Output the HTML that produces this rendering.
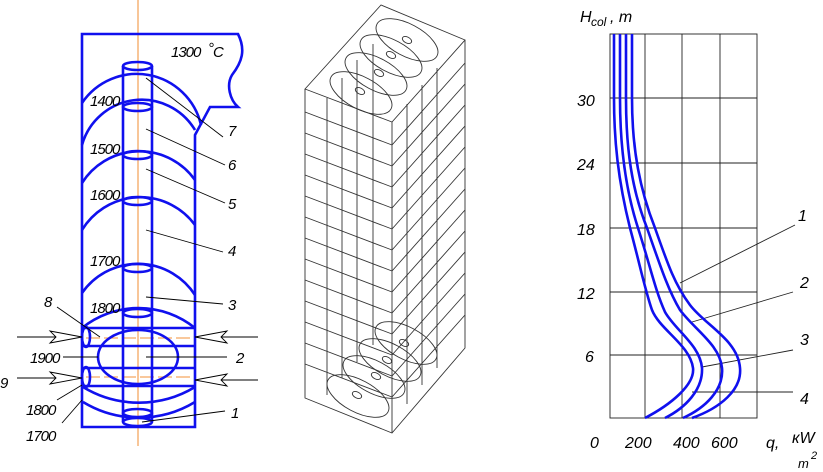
<!DOCTYPE html>
<html><head><meta charset="utf-8"><style>
html,body{margin:0;padding:0;background:#fff;}
svg{display:block;}
text{font-family:"Liberation Sans",Arial,sans-serif;font-style:italic;fill:#000;}
</style></head><body>
<svg width="823" height="472" viewBox="0 0 823 472" xmlns="http://www.w3.org/2000/svg">
<!-- LEFT DIAGRAM -->
<g fill="none">
<line x1="138" y1="0" x2="138" y2="446" stroke="#f5a860" stroke-width="1.3"/>
<line x1="86" y1="338" x2="195" y2="338" stroke="#f5a860" stroke-width="1.2" stroke-dasharray="14,4"/>
<line x1="86" y1="377" x2="195" y2="377" stroke="#f5a860" stroke-width="1.2" stroke-dasharray="14,4"/>
<g stroke="#1010ee" stroke-width="2.6">
<path d="M82,427 L82,34 L238,34 C246,50 242,62 232,75 C226,85 230,100 238,107 L210,107 L195,135 L195,427 Z"/>
<line x1="123" y1="66" x2="123" y2="422"/>
<line x1="152" y1="66" x2="152" y2="422"/>
<path d="M82,103 A66,66 0 0 1 201,125"/>
<path d="M82,145 A62,62 0 0 1 195,130"/>
<path d="M82,183 A68,68 0 0 1 195,180"/>
<path d="M82,230 A68,68 0 0 1 195,225"/>
<path d="M82,293 A68,68 0 0 1 195,295"/>
<path d="M82,328 A90,90 0 0 1 195,328"/>
<line x1="82" y1="328" x2="195" y2="328"/>
<line x1="82" y1="346" x2="195" y2="346"/>
<line x1="82" y1="368" x2="195" y2="368"/>
<line x1="82" y1="386" x2="195" y2="386"/>
<path d="M83,387 A108,108 0 0 0 195,387"/>
<path d="M83,402 A108,108 0 0 0 195,402"/>
<ellipse cx="138" cy="357" rx="40" ry="27"/>
<ellipse cx="86" cy="337" rx="4" ry="10"/>
<ellipse cx="86" cy="377" rx="4" ry="10"/>
<ellipse cx="137.5" cy="66" rx="14.5" ry="4"/>
<ellipse cx="137.5" cy="107" rx="14.5" ry="4"/>
<ellipse cx="137.5" cy="155" rx="14.5" ry="4"/>
<ellipse cx="137.5" cy="201" rx="14.5" ry="4"/>
<ellipse cx="137.5" cy="268" rx="14.5" ry="4"/>
<ellipse cx="137.5" cy="313" rx="14.5" ry="4"/>
<ellipse cx="137.5" cy="413" rx="14.5" ry="4"/>
<ellipse cx="137.5" cy="422" rx="14.5" ry="4"/>
</g>
<g stroke="#000" stroke-width="0.9">
<line x1="17" y1="337" x2="82" y2="337"/>
<line x1="17" y1="378" x2="82" y2="378"/>
<line x1="195" y1="337" x2="258" y2="337"/>
<line x1="195" y1="380" x2="258" y2="380"/>
<path d="M82,337 L50,331 L56,337 L50,343 Z" fill="#fff"/>
<path d="M82,378 L50,372 L56,378 L50,384 Z" fill="#fff"/>
<path d="M195,337 L227,331 L221,337 L227,343 Z" fill="#fff"/>
<path d="M195,380 L227,374 L221,380 L227,386 Z" fill="#fff"/>
<line x1="146" y1="78" x2="223" y2="137"/>
<line x1="146" y1="129" x2="225" y2="165"/>
<line x1="146" y1="169" x2="225" y2="203"/>
<line x1="146" y1="230" x2="223" y2="252"/>
<line x1="146" y1="297" x2="223" y2="304"/>
<line x1="146" y1="357" x2="227" y2="357"/>
<line x1="142" y1="422" x2="225" y2="411"/>
<line x1="63" y1="357" x2="98" y2="357"/>
<line x1="57" y1="307" x2="100" y2="337"/>
<line x1="57" y1="400" x2="82" y2="385"/>
<line x1="62" y1="423" x2="82" y2="400"/>
</g>
</g>
<g font-size="15">
<text x="171" y="57" letter-spacing="-1">1300</text>
<text x="208" y="53">°</text><text x="213" y="57">C</text>
<text x="90" y="106" letter-spacing="-1">1400</text>
<text x="90" y="154" letter-spacing="-1">1500</text>
<text x="90" y="200" letter-spacing="-1">1600</text>
<text x="90" y="266" letter-spacing="-1">1700</text>
<text x="90" y="313" letter-spacing="-1">1800</text>
<text x="30" y="363" letter-spacing="-1">1900</text>
<text x="26" y="415" letter-spacing="-1">1800</text>
<text x="26" y="441" letter-spacing="-1">1700</text>
<text x="44" y="307">8</text>
<text x="0" y="388">9</text>
<text x="228" y="136">7</text>
<text x="228" y="170">6</text>
<text x="228" y="209">5</text>
<text x="228" y="256">4</text>
<text x="228" y="310">3</text>
<text x="236" y="363">2</text>
<text x="231" y="418">1</text>
</g>
<!-- MIDDLE 3D -->
<g fill="none" stroke="#333" stroke-width="0.9">
<path d="M305,89 L381,5 L465,40 L392,122 Z"/>
<path d="M305,89 L305,398 L392,433 L465,348 L465,40"/>
<line x1="392" y1="122" x2="392" y2="433"/>
<line x1="305" y1="112" x2="392" y2="145"/><line x1="392" y1="145" x2="465" y2="63"/>
<line x1="305" y1="133" x2="392" y2="166"/><line x1="392" y1="166" x2="465" y2="84"/>
<line x1="305" y1="154" x2="392" y2="187"/><line x1="392" y1="187" x2="465" y2="105"/>
<line x1="305" y1="175" x2="392" y2="208"/><line x1="392" y1="208" x2="465" y2="126"/>
<line x1="305" y1="196" x2="392" y2="229"/><line x1="392" y1="229" x2="465" y2="147"/>
<line x1="305" y1="217" x2="392" y2="250"/><line x1="392" y1="250" x2="465" y2="168"/>
<line x1="305" y1="238" x2="392" y2="271"/><line x1="392" y1="271" x2="465" y2="189"/>
<line x1="305" y1="259" x2="392" y2="292"/><line x1="392" y1="292" x2="465" y2="210"/>
<line x1="305" y1="280" x2="392" y2="313"/><line x1="392" y1="313" x2="465" y2="231"/>
<line x1="305" y1="301" x2="392" y2="334"/><line x1="392" y1="334" x2="465" y2="252"/>
<line x1="305" y1="322" x2="392" y2="355"/><line x1="392" y1="355" x2="465" y2="273"/>
<line x1="305" y1="343" x2="392" y2="376"/><line x1="392" y1="376" x2="465" y2="294"/>
<line x1="305" y1="364" x2="392" y2="397"/><line x1="392" y1="397" x2="465" y2="315"/>
<line x1="327" y1="98" x2="327" y2="395"/>
<line x1="342" y1="78" x2="342" y2="378"/>
<line x1="357" y1="60" x2="357" y2="362"/>
<line x1="373" y1="44" x2="373" y2="345"/>
<line x1="407" y1="104" x2="407" y2="404"/>
<line x1="422" y1="85" x2="422" y2="385"/>
<line x1="437" y1="68" x2="437" y2="368"/>
<ellipse cx="361" cy="93" rx="34" ry="16" transform="rotate(28 361 93)"/>
<ellipse cx="376" cy="74" rx="34" ry="16" transform="rotate(28 376 74)"/>
<ellipse cx="391" cy="56" rx="34" ry="16" transform="rotate(28 391 56)"/>
<ellipse cx="407" cy="40" rx="34" ry="16" transform="rotate(28 407 40)"/>
<ellipse cx="360" cy="91" rx="5" ry="3" transform="rotate(28 360 91)"/>
<ellipse cx="379" cy="73" rx="5" ry="3" transform="rotate(28 379 73)"/>
<ellipse cx="391" cy="55" rx="5" ry="3" transform="rotate(28 391 55)"/>
<ellipse cx="407" cy="40" rx="5" ry="3" transform="rotate(28 407 40)"/>
<ellipse cx="358" cy="396" rx="34" ry="16" transform="rotate(28 358 396)"/>
<ellipse cx="374" cy="377" rx="34" ry="16" transform="rotate(28 374 377)"/>
<ellipse cx="390" cy="360" rx="34" ry="16" transform="rotate(28 390 360)"/>
<ellipse cx="406" cy="343" rx="34" ry="16" transform="rotate(28 406 343)"/>
<ellipse cx="357" cy="395" rx="5" ry="3" transform="rotate(28 357 395)"/>
<ellipse cx="376" cy="376" rx="5" ry="3" transform="rotate(28 376 376)"/>
<ellipse cx="387" cy="360" rx="5" ry="3" transform="rotate(28 387 360)"/>
<ellipse cx="404" cy="343" rx="5" ry="3" transform="rotate(28 404 343)"/>
</g>
<!-- RIGHT CHART -->
<g fill="none" stroke="#222" stroke-width="0.9">
<rect x="610" y="34" width="147" height="384"/>
<line x1="645" y1="34" x2="645" y2="418"/>
<line x1="682" y1="34" x2="682" y2="418"/>
<line x1="720" y1="34" x2="720" y2="418"/>
<line x1="610" y1="98" x2="757" y2="98"/>
<line x1="610" y1="163" x2="757" y2="163"/>
<line x1="610" y1="228" x2="757" y2="228"/>
<line x1="610" y1="292" x2="757" y2="292"/>
<line x1="610" y1="355" x2="757" y2="355"/>
<line x1="680" y1="283" x2="795" y2="225"/>
<line x1="692" y1="322" x2="793" y2="292"/>
<line x1="702" y1="367" x2="793" y2="350"/>
<line x1="692" y1="392" x2="793" y2="392"/>
</g>
<g fill="none" stroke="#1010ee" stroke-width="2.6">
<path d="M614,34 L614,98 C614,140 618,180 630,228 C640,265 645,290 652,310 C660,330 690,345 693,368 C695,385 670,405 645,418"/>
<path d="M620,34 L620,98 C620,140 624,185 638,228 C650,265 655,290 665,312 C675,330 700,345 702,368 C703,390 685,408 665,418"/>
<path d="M626,34 L626,98 C626,150 632,190 647,228 C660,265 668,290 680,310 C695,330 720,345 722,368 C724,390 705,408 683,418"/>
<path d="M632,34 L632,98 C632,150 640,190 655,228 C668,265 675,285 690,305 C705,325 738,340 740,368 C742,390 720,408 692,418"/>
</g>
<g font-size="16">
<text x="580" y="22">H</text><text x="591" y="26" font-size="12">col</text><text x="610" y="22">, m</text>
<text x="577" y="106">30</text>
<text x="577" y="170">24</text>
<text x="577" y="235">18</text>
<text x="577" y="299">12</text>
<text x="585" y="362">6</text>
<text x="590" y="448">0</text>
<text x="625" y="448">200</text>
<text x="673" y="448">400</text>
<text x="711" y="448">600</text>
<text x="766" y="448">q,</text>
<text x="792" y="443">кW</text>
<text x="798" y="468" font-size="13">m</text><text x="811" y="459" font-size="11">2</text>
<text x="798" y="221">1</text>
<text x="800" y="288">2</text>
<text x="800" y="345">3</text>
<text x="800" y="404">4</text>
</g>
</svg>
</body></html>
